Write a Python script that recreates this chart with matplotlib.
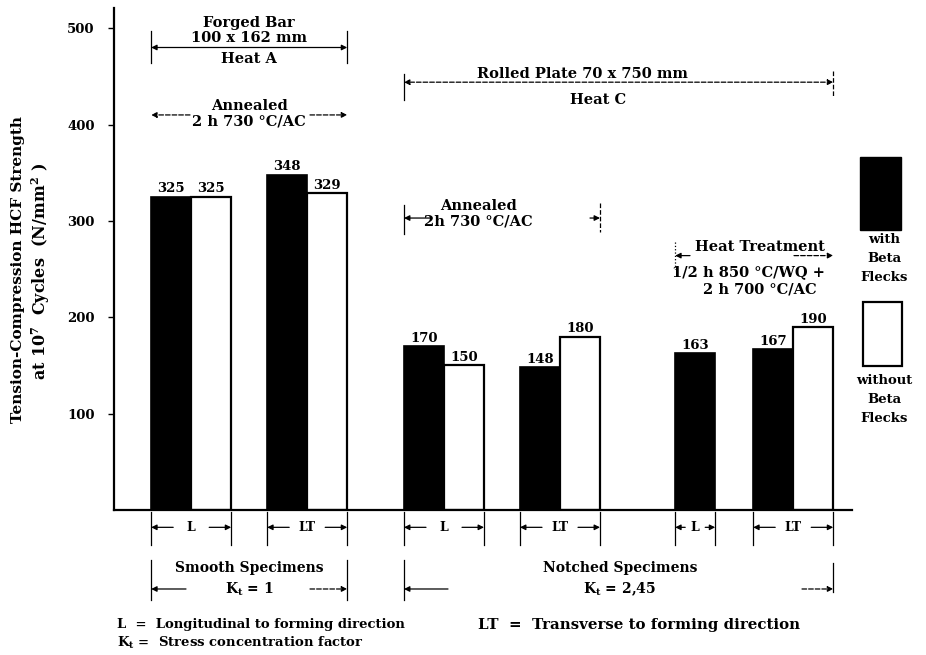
import numpy as np
import matplotlib
matplotlib.use("Agg")
import matplotlib.pyplot as plt
from matplotlib.patches import Rectangle

plt.rcParams['font.family'] = 'DejaVu Serif'
plt.rcParams['font.weight'] = 'bold'
plt.rcParams['mathtext.default'] = 'regular'

# Daten aus dem Bild
groups = ['L', 'LT', 'L', 'LT', 'L', 'LT']
with_flecks = [325, 348, 170, 148, 163, 167]
without_flecks = [325, 329, 150, 180, np.nan, 190]
yticks = [100, 200, 300, 400, 500]

# Lage der Gruppen (Mitte zwischen den beiden Balken), Balkenbreite = 1
pos = np.array([1.93, 4.83, 8.25, 11.15, 15.03, 16.98])
W = 1.0

fig = plt.figure(figsize=(9.26, 6.55), dpi=100)
ax = fig.add_axes([0.1231, 0.2214, 0.797, 0.7664])

ax.bar(pos - W / 2, with_flecks, W, color='black', edgecolor='black', lw=1.2)
wo = np.array(without_flecks)
ok = ~np.isnan(wo)
ax.bar(pos[ok] + W / 2, wo[ok], W, color='white', edgecolor='black', lw=1.6)

FS = 9.5
TS = 10.5
for x, v in zip(pos - W / 2, with_flecks):
    ax.annotate(f'{v}', (x, v), xytext=(0, 1), textcoords='offset points',
                ha='center', va='bottom', fontsize=FS)
for x, v in zip(pos + W / 2, without_flecks):
    if not np.isnan(v):
        ax.annotate(f'{v:.0f}', (x, v), xytext=(0, 1), textcoords='offset points',
                    ha='center', va='bottom', fontsize=FS)

ax.set_xlim(0, 18.45)
ax.set_ylim(0, 521)
ax.set_yticks(yticks)
ax.set_xticks([])
ax.tick_params(axis='y', direction='out', length=4, width=1, pad=10, labelsize=9.5)
for s in ['top', 'right']:
    ax.spines[s].set_visible(False)
ax.spines['left'].set_linewidth(1.6)
ax.spines['bottom'].set_linewidth(1.6)


def arrow(x_tail, x_head, y, ls='-'):
    ax.annotate('', xy=(x_head, y), xytext=(x_tail, y),
                arrowprops=dict(arrowstyle='-|>', lw=0.9, color='black', linestyle=ls,
                                mutation_scale=8, shrinkA=0, shrinkB=0),
                annotation_clip=False)


def vline(x, y0, y1, ls='-'):
    ax.plot([x, x], [y0, y1], color='black', lw=0.9, ls=ls, clip_on=False)


def txt(x, y, s, fs=TS, **kw):
    ax.text(x, y, s, ha='center', va='center', fontsize=fs, clip_on=False, **kw)


# Klammern unter den Balken (L / LT)
for i, p in enumerate(pos):
    if i == 4:
        x0, x1 = p - W, p
    else:
        x0, x1 = p - W, p + W
    vline(x0, -2, -36)
    vline(x1, -2, -36)
    mid = (x0 + x1) / 2
    gap = 0.25 if i == 4 else 0.45
    arrow(mid - gap, x0, -18)
    arrow(mid + gap, x1, -18)
    txt(mid, -18, groups[i], fs=9, bbox=dict(fc='white', ec='none', pad=1))

# Smooth / Notched
left1, right1 = pos[0] - W, pos[1] + W
left2, right2 = pos[2] - W, pos[5] + W
vline(left1, -52, -93)
vline(right1, -52, -93)
vline(left2, -52, -93)
vline(right2, -55, -85)
txt((left1 + right1) / 2, -60, 'Smooth Specimens', fs=10)
txt((left1 + right1) / 2, -82, 'K$_t$ = 1', fs=10)
arrow(1.8, left1, -82)
arrow(4.9, right1, -82, ls='--')
txt(12.65, -60, 'Notched Specimens', fs=10)
txt(12.65, -82, 'K$_t$ = 2,45', fs=10)
arrow(8.35, left2, -82)
arrow(17.2, right2, -82, ls='--')

# Oben: Forged Bar
vline(left1, 497, 464)
vline(right1, 497, 464)
ax.annotate('', xy=(left1, 480), xytext=(right1, 480),
            arrowprops=dict(arrowstyle='<|-|>', lw=0.9, color='black',
                            mutation_scale=8, shrinkA=0, shrinkB=0),
            annotation_clip=False)
cx1 = (left1 + right1) / 2
txt(cx1, 505, 'Forged Bar')
txt(cx1, 490, '100 x 162 mm')
txt(cx1, 468, 'Heat A')

txt(cx1, 419, 'Annealed')
txt(cx1, 403, '2 h 730 °C/AC')
arrow(1.9, left1, 410, ls='--')
arrow(4.9, right1, 410, ls='--')

# Rolled Plate
vline(left2, 452, 426)
vline(right2, 456, 430, ls='--')
ax.annotate('', xy=(left2, 444), xytext=(right2, 444),
            arrowprops=dict(arrowstyle='<|-|>', lw=0.9, color='black', linestyle='--',
                            mutation_scale=8, shrinkA=0, shrinkB=0),
            annotation_clip=False)
txt(11.7, 452, 'Rolled Plate 70 x 750 mm')
txt(12.1, 426, 'Heat C')

# Annealed (Heat C)
right_a = pos[3] + W
vline(left2, 317, 286)
vline(right_a, 319, 288, ls='--')
arrow(7.95, left2, 303)
arrow(11.9, right_a, 303)
txt(9.1, 315, 'Annealed')
txt(9.1, 299, '2h 730 °C/AC')

# Heat Treatment
left3 = pos[4] - W
vline(left3, 278, 250, ls=':')
arrow(14.4, left3, 264)
arrow(17.0, right2, 264, ls='--')
txt(16.15, 273, 'Heat Treatment')
txt(15.85, 247, '1/2 h 850 °C/WQ +')
txt(16.15, 229, '2 h 700 °C/AC')

# Legende
ax.add_patch(Rectangle((18.65, 291), 1.03, 75, fc='black', ec='black', clip_on=False))
ax.add_patch(Rectangle((18.72, 149), 0.98, 67, fc='white', ec='black', lw=1.6, clip_on=False))
ax.text(19.25, 287, 'with\nBeta\nFlecks', ha='center', va='top', fontsize=9.5,
        linespacing=1.6, clip_on=False)
ax.text(19.25, 141, 'without\nBeta\nFlecks', ha='center', va='top', fontsize=9.5,
        linespacing=1.6, clip_on=False)

# Achsenbeschriftung
fig.text(0.019, 0.588, 'Tension-Compression HCF Strength', rotation=90,
         ha='center', va='center', fontsize=11)
fig.text(0.044, 0.585, 'at 10$^7$  Cycles  (N/mm$^2$ )', rotation=90,
         ha='center', va='center', fontsize=11.5)

# Fussnoten
fig.text(0.126, 0.046, 'L  =  Longitudinal to forming direction', fontsize=9.5, va='center')
fig.text(0.516, 0.046, 'LT  =  Transverse to forming direction', fontsize=10.8, va='center')
fig.text(0.126, 0.018, 'K$_t$ =  Stress concentration factor', fontsize=9.5, va='center')

fig.savefig('out.png', dpi=100)
